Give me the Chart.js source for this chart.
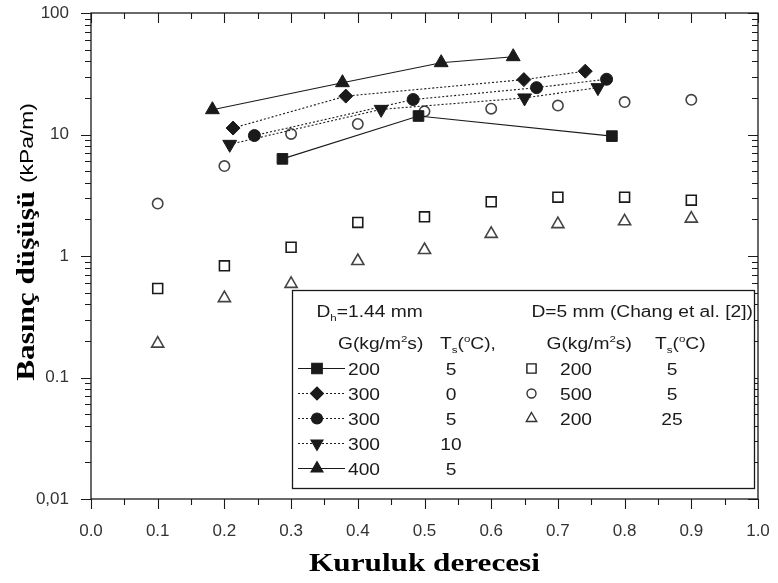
<!DOCTYPE html>
<html><head><meta charset="utf-8">
<script src="https://cdn.jsdelivr.net/npm/chart.js@4.4.1/dist/chart.umd.min.js"></script>
<style>html,body{margin:0;padding:0;background:#fff}#wrap{width:778px;height:583px}</style>
</head><body><div id="wrap"><canvas id="c" width="778" height="583"></canvas></div>
<script>
// ---- data ----
const xTickValues = [0,0.1,0.2,0.3,0.4,0.5,0.6,0.7,0.8,0.9,1.0];
const xTickLabels = ['0.0','0.1','0.2','0.3','0.4','0.5','0.6','0.7','0.8','0.9','1.0'];
const yTickValues = [0.01,0.1,1,10,100];
const yTickLabels = ['0,01','0.1','1','10','100'];

// Dh = 1.44 mm series
const g200t5X  = [0.287, 0.491, 0.781];
const g200t5Y  = [6.3, 14.2, 9.7];
const g300t0X  = [0.213, 0.382, 0.649, 0.741];
const g300t0Y  = [11.3, 20.7, 28.3, 33.2];
const g300t5X  = [0.245, 0.483, 0.668, 0.773];
const g300t5Y  = [9.8, 19.4, 24.3, 28.5];
const g300t10X = [0.208, 0.435, 0.650, 0.760];
const g300t10Y = [8.3, 16.1, 20.0, 24.3];
const g400t5X  = [0.182, 0.377, 0.525, 0.633];
const g400t5Y  = [16.0, 26.7, 39.0, 43.7];

// D = 5 mm (Chang et al.) series
const changX    = [0.1,0.2,0.3,0.4,0.5,0.6,0.7,0.8,0.9];
const chang200t5Y  = [0.54, 0.83, 1.18, 1.89, 2.1, 2.79, 3.05, 3.05, 2.88];
const chang500t5Y  = [2.7, 5.5, 10.1, 12.2, 15.5, 16.3, 17.3, 18.5, 19.3];
const chang200t25Y = [0.19, 0.45, 0.59, 0.91, 1.12, 1.52, 1.83, 1.93, 2.03];

const pts = (xs, ys) => xs.map((x, i) => ({x: x, y: ys[i]}));

const INK = '#1a1a1a';
const SX = 1.2; // horizontal stretch of the reference's lettering

function filledSeries(label, xs, ys, style, rot, r, dash) {
  return {label, data: pts(xs, ys), showLine: true, borderColor: INK, borderWidth: 1.1,
    borderDash: dash, pointStyle: style, rotation: rot, pointRadius: r,
    pointBackgroundColor: INK, pointBorderColor: INK, pointBorderWidth: 1};
}
function openSeries(label, xs, ys, style, r, col) {
  return {label, data: pts(xs, ys), showLine: false, pointStyle: style, pointRadius: r,
    pointBackgroundColor: 'rgba(255,255,255,0)', pointBorderColor: col, pointBorderWidth: 1.6};
}

function stretchText(ctx, txt, x, y) {
  ctx.save(); ctx.translate(x, y); ctx.scale(SX, 1); ctx.fillText(txt, 0, 0); ctx.restore();
  return ctx.measureText(txt).width * SX;
}
// rich text: parts [{t, k:'sub'|'sup'}]
function rich(ctx, parts, x, y, size) {
  let cx = x;
  parts.forEach(p => {
    let fs = size, dy = 0;
    if (p.k === 'sub') { fs = size * 0.6; dy = size * 0.28; }
    if (p.k === 'sup') { fs = size * 0.6; dy = -size * 0.42; }
    ctx.font = fs + 'px "Liberation Sans", Arial, sans-serif';
    cx += stretchText(ctx, p.t, cx, y + dy);
  });
  return cx - x;
}
function centered(ctx, txt, cx, y, size) {
  ctx.font = size + 'px "Liberation Sans", Arial, sans-serif';
  const w = ctx.measureText(txt).width * SX;
  stretchText(ctx, txt, cx - w / 2, y);
}

const decor = {
  id: 'decor',
  afterDraw(chart) {
    const ctx = chart.ctx, a = chart.chartArea;
    const xs = chart.scales.x, ys = chart.scales.y;
    ctx.save();
    ctx.strokeStyle = INK; ctx.lineWidth = 1.3;
    ctx.strokeRect(a.left, a.top, a.right - a.left, a.bottom - a.top);
    ctx.lineWidth = 1.1;
    ctx.beginPath();
    // x ticks: bottom outward, top inward
    for (let i = 0; i <= 20; i++) {
      const v = i / 20, px = Math.round(xs.getPixelForValue(v)) + 0.5;
      const len = (i % 2 === 0) ? 10 : 6;
      ctx.moveTo(px, a.bottom); ctx.lineTo(px, a.bottom + len);
      ctx.moveTo(px, a.top); ctx.lineTo(px, a.top + len);
    }
    // y ticks: left outward, right inward
    for (let n = -2; n <= 2; n++) {
      for (let k = 1; k <= 9; k++) {
        const v = k * Math.pow(10, n);
        if (v > 100.0001) break;
        const py = Math.round(ys.getPixelForValue(v)) + 0.5;
        const len = (k === 1) ? 10 : 6;
        ctx.moveTo(a.left, py); ctx.lineTo(a.left - len, py);
        ctx.moveTo(a.right, py); ctx.lineTo(a.right - len, py);
      }
    }
    ctx.stroke();

    // ---- legend box ----
    const bx = 292.5, by = 290.5, bw = 462, bh = 198;
    ctx.fillStyle = '#fff'; ctx.fillRect(bx, by, bw, bh);
    ctx.lineWidth = 1.3; ctx.strokeStyle = INK; ctx.strokeRect(bx, by, bw, bh);
    ctx.fillStyle = INK; ctx.textBaseline = 'alphabetic';
    const fs = 16;
    rich(ctx, [{t:'D'},{t:'h',k:'sub'},{t:'=1.44 mm'}], 316.5, 317, fs);
    rich(ctx, [{t:'D=5 mm (Chang et al. [2])'}], 531.5, 317, fs);
    rich(ctx, [{t:'G(kg/m'},{t:'2',k:'sup'},{t:'s)'}], 338, 348.5, fs);
    rich(ctx, [{t:'T'},{t:'s',k:'sub'},{t:'('},{t:'o',k:'sup'},{t:'C),'}], 440, 348.5, fs);
    rich(ctx, [{t:'G(kg/m'},{t:'2',k:'sup'},{t:'s)'}], 546.5, 348.5, fs);
    rich(ctx, [{t:'T'},{t:'s',k:'sub'},{t:'('},{t:'o',k:'sup'},{t:'C)'}], 655, 348.5, fs);

    const rowsL = [
      {g:'200', t:'5',  style:'rect',     rot:0,   r:7.5, dash:[]},
      {g:'300', t:'0',  style:'rectRot',  rot:0,   r:6.5, dash:[2,2]},
      {g:'300', t:'5',  style:'circle',   rot:0,   r:5.5, dash:[2,2]},
      {g:'300', t:'10', style:'triangle', rot:180, r:7,   dash:[2,2]},
      {g:'400', t:'5',  style:'triangle', rot:0,   r:7,   dash:[]}
    ];
    rowsL.forEach((row, i) => {
      const base = 375 + i * 25, cy = base - 6.5;
      ctx.save();
      ctx.strokeStyle = INK; ctx.lineWidth = 1.1; ctx.setLineDash(row.dash);
      ctx.beginPath(); ctx.moveTo(298, cy); ctx.lineTo(345, cy); ctx.stroke();
      ctx.setLineDash([]);
      ctx.fillStyle = INK;
      Chart.helpers.drawPoint(ctx, {pointStyle: row.style, radius: row.r, rotation: row.rot, borderWidth: 1}, 317, cy);
      ctx.restore();
      ctx.fillStyle = INK;
      rich(ctx, [{t: row.g}], 348, base, fs);
      centered(ctx, row.t, 451, base, fs);
    });
    const rowsR = [
      {g:'200', t:'5',  style:'rect',     r:6.5, col:INK},
      {g:'500', t:'5',  style:'circle',   r:4.5, col:'#333'},
      {g:'200', t:'25', style:'triangle', r:6,   col:'#333'}
    ];
    rowsR.forEach((row, i) => {
      const base = 375 + i * 25, cy = base - 6.5;
      ctx.save();
      ctx.strokeStyle = row.col; ctx.lineWidth = 1.4; ctx.fillStyle = 'rgba(255,255,255,0)';
      Chart.helpers.drawPoint(ctx, {pointStyle: row.style, radius: row.r, rotation: 0, borderWidth: 1.4}, 531.5, cy);
      ctx.restore();
      ctx.fillStyle = INK;
      rich(ctx, [{t: row.g}], 560, base, fs);
      centered(ctx, row.t, 672, base, fs);
    });

    // ---- axis titles ----
    ctx.fillStyle = '#000';
    ctx.font = 'bold 26px "Liberation Serif", "Times New Roman", serif';
    const xt = 'Kuruluk derecesi';
    const xw = ctx.measureText(xt).width * SX;
    stretchText(ctx, xt, (a.left + a.right) / 2 - xw / 2, 571);

    // y title rotated
    const serifFont = 'bold 26px "Liberation Serif", "Times New Roman", serif';
    const sansFont = '19px "Liberation Sans", Arial, sans-serif';
    const p1 = 'Basınç düşüşü ', p2 = '(kPa/m)';
    ctx.font = serifFont; const w1 = ctx.measureText(p1).width * SX;
    ctx.font = sansFont; const w2 = ctx.measureText(p2).width * SX;
    const total = w1 + w2, centerY = 242;
    ctx.save();
    ctx.translate(34, centerY + total / 2);
    ctx.rotate(-Math.PI / 2);
    ctx.font = serifFont; stretchText(ctx, p1, 0, 0);
    ctx.font = sansFont; stretchText(ctx, p2, w1, -1);
    ctx.restore();
    ctx.restore();
  }
};

new Chart(document.getElementById('c'), {
  type: 'scatter',
  data: {
    datasets: [
      filledSeries('200 / 5',  g200t5X,  g200t5Y,  'rect',     0,   7.5, []),
      filledSeries('300 / 0',  g300t0X,  g300t0Y,  'rectRot',  0,   7,   [2,2]),
      filledSeries('300 / 5',  g300t5X,  g300t5Y,  'circle',   0,   6,   [2,2]),
      filledSeries('300 / 10', g300t10X, g300t10Y, 'triangle', 180, 8,   [2,2]),
      filledSeries('400 / 5',  g400t5X,  g400t5Y,  'triangle', 0,   8,   []),
      openSeries('Chang 200 / 5',  changX, chang200t5Y,  'rect',     7,   INK),
      openSeries('Chang 500 / 5',  changX, chang500t5Y,  'circle',   5.2, '#444'),
      openSeries('Chang 200 / 25', changX, chang200t25Y, 'triangle', 7,   '#444')
    ]
  },
  options: {
    responsive: false, animation: false, events: [],
    layout: {padding: {top: 13, left: 0, right: 0, bottom: 0}},
    plugins: {legend: {display: false}, tooltip: {enabled: false}},
    scales: {
      x: {type: 'linear', position: 'bottom', min: 0, max: 1,
        afterFit(s) { s.height = 84; s.paddingLeft = 0; s.paddingRight = 0; },
        afterBuildTicks(s) { s.ticks = xTickValues.map(v => ({value: v})); },
        ticks: {callback: (v) => xTickLabels[xTickValues.findIndex(t => Math.abs(t - v) < 1e-9)],
          font: {family: '"Liberation Sans", Arial, sans-serif', size: 17}, color: '#333',
          padding: 14, maxRotation: 0, autoSkip: false},
        grid: {display: false}, border: {display: false}},
      y: {type: 'logarithmic', position: 'left', min: 0.01, max: 100,
        afterFit(s) { s.width = 91; s.paddingTop = 0; s.paddingBottom = 0; },
        afterBuildTicks(s) { s.ticks = yTickValues.map(v => ({value: v})); },
        ticks: {callback: (v) => yTickLabels[yTickValues.findIndex(t => Math.abs(t - v) / t < 1e-6)],
          font: {family: '"Liberation Sans", Arial, sans-serif', size: 17}, color: '#333',
          padding: 14, autoSkip: false},
        grid: {display: false}, border: {display: false}},
      y2: {type: 'logarithmic', position: 'right', min: 0.01, max: 100,
        afterFit(s) { s.width = 20; s.paddingTop = 0; s.paddingBottom = 0; },
        ticks: {display: false}, grid: {display: false}, border: {display: false}}
    }
  },
  plugins: [decor]
});
</script>
</body></html>
